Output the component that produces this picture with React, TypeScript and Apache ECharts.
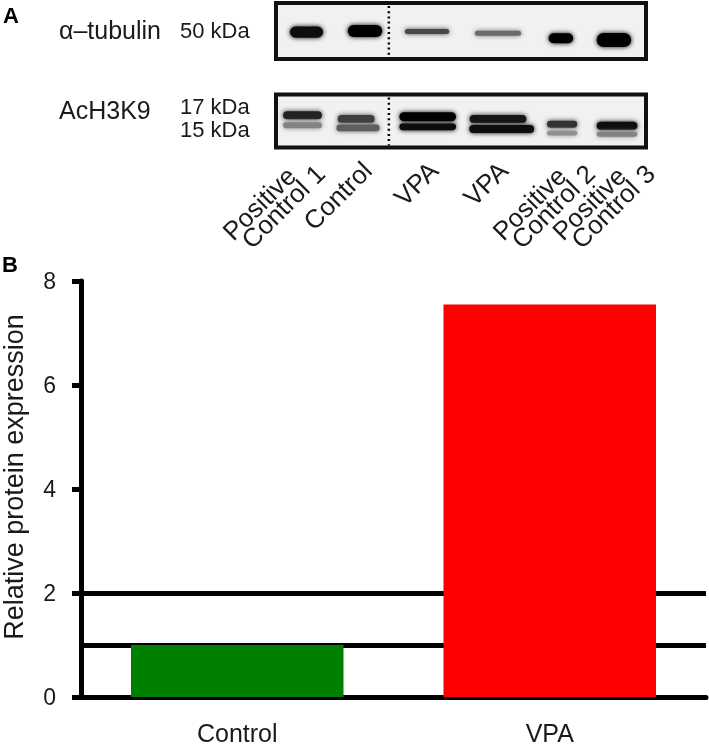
import React, { useEffect, useRef } from 'react';
import * as echarts from 'echarts';

// ---- Panel B data ----
const groups = ['Control', 'VPA'];
const expression = [1.0, 7.55];
const barColors = ['#008000', '#ff0000'];
const referenceLevels = [1, 2];
const yRange = [0, 8];
const yStep = 2;

// ---- Panel A data ----
const laneLabels = ['Positive\nControl 1', 'Control', 'VPA', 'VPA', 'Positive\nControl 2', 'Positive\nControl 3'];
// where each lane label ends, in lane units
const laneLabelAt = [1.11, 1.92, 3.0, 4.13, 5.49, 6.46];
const separatorAt = [2.33];
const acetylMarkers = ['17 kDa', '15 kDa'];
// [lane position, migration (0 top .. 1 bottom), darkness, width (lanes), thickness (panel fraction)]
const tubulinBands = [
  [0.995, 0.52, 0.95, 0.54, 0.2],
  [1.943, 0.5, 1.0, 0.56, 0.21],
  [2.949, 0.51, 0.7, 0.72, 0.09],
  [4.1, 0.54, 0.55, 0.75, 0.09],
  [5.12, 0.63, 1.0, 0.4, 0.18],
  [5.98, 0.66, 1.0, 0.56, 0.25],
];
const acetylBands = [
  [0.93, 0.39, 0.85, 0.63, 0.15],
  [0.93, 0.58, 0.45, 0.63, 0.11],
  [1.8, 0.46, 0.75, 0.6, 0.15],
  [1.83, 0.63, 0.6, 0.7, 0.13],
  [2.96, 0.42, 1.0, 0.92, 0.17],
  [2.96, 0.61, 0.95, 0.92, 0.13],
  [4.1, 0.46, 0.9, 0.92, 0.15],
  [4.16, 0.65, 0.95, 1.05, 0.15],
  [5.14, 0.56, 0.8, 0.49, 0.13],
  [5.14, 0.73, 0.4, 0.49, 0.09],
  [6.03, 0.59, 0.95, 0.66, 0.15],
  [6.03, 0.75, 0.45, 0.66, 0.09],
];

const FONT = '"Liberation Sans", Arial, sans-serif';
const TXT = '#1a1a1a';

const bandRender = (params: any, api: any) => {
  const x = api.value(0);
  const pos = api.value(1);
  const dark = api.value(2);
  const w = api.value(3);
  const h = api.value(4);
  const c = api.coord([x, pos]);
  const laneW = Math.abs(api.size([1, 0])[0]);
  const panelH = Math.abs(api.size([0, 1])[1]);
  const bw = w * laneW;
  const bh = h * panelH;
  const g = Math.round(238 * (1 - dark));
  const color = `rgb(${g},${g},${g})`;
  return {
    type: 'rect',
    shape: { x: c[0] - bw / 2, y: c[1] - bh / 2, width: bw, height: bh, r: bh / 2 },
    style: { fill: color, shadowBlur: 5, shadowColor: color },
  };
};

const separatorRender = (params: any, api: any) => {
  const x = api.coord([api.value(0), 0])[0];
  const cs = params.coordSys;
  return {
    type: 'line',
    shape: { x1: x, y1: cs.y + 3, x2: x, y2: cs.y + cs.height - 2 },
    style: { stroke: '#000', lineWidth: 2.5, lineDash: [2, 3.2] },
  };
};

const laneFormatter = (value: number) => {
  let idx = 0;
  laneLabelAt.forEach((p, i) => {
    if (Math.abs(p - value) < Math.abs(laneLabelAt[idx] - value)) idx = i;
  });
  const parts = laneLabels[idx].split('\n');
  if (parts.length > 1) return `{a|${parts[0]}}\n{b|${parts[1]}}`;
  return `{e| }\n{b|${parts[0]}}`;
};

const laneAxis = (values: number[]) => ({
  type: 'value',
  gridIndex: 3,
  position: 'bottom',
  offset: 0,
  min: 0.5,
  max: 7.5,
  splitLine: { show: false },
  axisLine: { show: false },
  axisTick: { show: false },
  axisLabel: {
    customValues: values,
    showMinLabel: true,
    showMaxLabel: true,
    hideOverlap: false,
    rotate: 45,
    margin: 15,
    color: TXT,
    formatter: laneFormatter,
    rich: {
      a: { fontSize: 26, lineHeight: 19, padding: [0, 22, 0, 0], color: TXT, fontFamily: FONT },
      b: { fontSize: 26, lineHeight: 19, color: TXT, fontFamily: FONT },
      e: { fontSize: 6, lineHeight: 10, color: TXT, fontFamily: FONT },
    },
  },
});

export default function App() {
  const ref = useRef<HTMLDivElement>(null);
  useEffect(() => {
    if (!ref.current) return;
    const chart = echarts.init(ref.current, undefined, { renderer: 'svg' });
    const blotGrid = { show: true, backgroundColor: '#f1f1f1', borderColor: '#111', borderWidth: 4, outerBoundsMode: 'none' };
    const blotX = { type: 'value', min: 0.5, max: 6.5, show: false, splitLine: { show: false } };
    const blotY = { type: 'value', min: 0, max: 1, inverse: true, show: false, splitLine: { show: false } };
    chart.setOption({
      animation: false,
      textStyle: { fontFamily: FONT },
      grid: [
        { left: 81, right: 3, top: 281, bottom: 51, outerBoundsMode: 'none' },
        { left: 276, right: 63, top: 3, bottom: 689, ...blotGrid },
        { left: 276, right: 63, top: 94.5, bottom: 600.5, ...blotGrid },
        { left: 276, width: 61.67 * 7, top: 94.5, bottom: 600.5, show: false, outerBoundsMode: 'none' },
      ],
      xAxis: [
        {
          type: 'category',
          gridIndex: 0,
          data: groups,
          axisLine: { lineStyle: { color: '#000', width: 5 } },
          axisTick: { alignWithLabel: true, length: 11, lineStyle: { color: '#000', width: 5 } },
          axisLabel: { fontSize: 25, lineHeight: 22, color: TXT, margin: 25, fontFamily: FONT },
        },
        { ...blotX, gridIndex: 1 },
        { ...blotX, gridIndex: 2 },
        laneAxis(laneLabelAt.filter((_, i) => i % 2 === 0)),
        laneAxis(laneLabelAt.filter((_, i) => i % 2 === 1)),
      ],
      yAxis: [
        {
          type: 'value',
          gridIndex: 0,
          min: yRange[0],
          max: yRange[1],
          interval: yStep,
          name: 'Relative protein expression',
          nameLocation: 'middle',
          nameRotate: 90,
          nameGap: 54,
          nameTextStyle: { fontSize: 27, color: TXT, fontFamily: FONT, padding: [0, 0, 0, 24] },
          axisLine: { show: true, lineStyle: { color: '#000', width: 5 } },
          axisTick: { show: true, length: 9, lineStyle: { color: '#000', width: 5 } },
          axisLabel: { fontSize: 23, color: TXT, margin: 25, fontFamily: FONT },
          splitLine: { show: false },
        },
        { ...blotY, gridIndex: 1 },
        { ...blotY, gridIndex: 2 },
        { ...blotY, gridIndex: 3 },
      ],
      series: [
        {
          type: 'bar',
          xAxisIndex: 0,
          yAxisIndex: 0,
          barCategoryGap: '32%',
          z: 2,
          data: expression.map((v, i) => ({ value: v, itemStyle: { color: barColors[i] } })),
          markLine: {
            z: 1,
            silent: true,
            symbol: 'none',
            label: { show: false },
            lineStyle: { color: '#000', width: 5, type: 'solid' },
            data: referenceLevels.map((v) => ({ yAxis: v })),
          },
        },
        { type: 'custom', xAxisIndex: 1, yAxisIndex: 1, clip: true, renderItem: bandRender, data: tubulinBands },
        { type: 'custom', xAxisIndex: 2, yAxisIndex: 2, clip: true, renderItem: bandRender, data: acetylBands },
        { type: 'custom', xAxisIndex: 1, yAxisIndex: 1, renderItem: separatorRender, data: separatorAt.map((v) => [v]) },
        { type: 'custom', xAxisIndex: 2, yAxisIndex: 2, renderItem: separatorRender, data: separatorAt.map((v) => [v]) },
      ],
      graphic: [
        { type: 'text', x: 3, y: 15, style: { text: 'A', fontSize: 22, fontWeight: 'bold', fontFamily: FONT, fill: '#000', verticalAlign: 'middle' } },
        { type: 'text', x: 2, y: 264, style: { text: 'B', fontSize: 22, fontWeight: 'bold', fontFamily: FONT, fill: '#000', verticalAlign: 'middle' } },
        { type: 'text', x: 59, y: 30, style: { text: 'α–tubulin', fontSize: 25, fontFamily: FONT, fill: TXT, verticalAlign: 'middle' } },
        { type: 'text', x: 180, y: 30, style: { text: '50 kDa', fontSize: 22, fontFamily: FONT, fill: TXT, verticalAlign: 'middle' } },
        { type: 'text', x: 59, y: 110, style: { text: 'AcH3K9', fontSize: 25, fontFamily: FONT, fill: TXT, verticalAlign: 'middle' } },
        { type: 'text', x: 180, y: 117.5, style: { text: acetylMarkers.join('\n'), fontSize: 22, lineHeight: 23, fontFamily: FONT, fill: TXT, verticalAlign: 'middle' } },
      ],
    });
    return () => chart.dispose();
  }, []);
  return <div ref={ref} style={{ position: 'fixed', left: 0, top: 0, width: 709, height: 748 }} />;
}
